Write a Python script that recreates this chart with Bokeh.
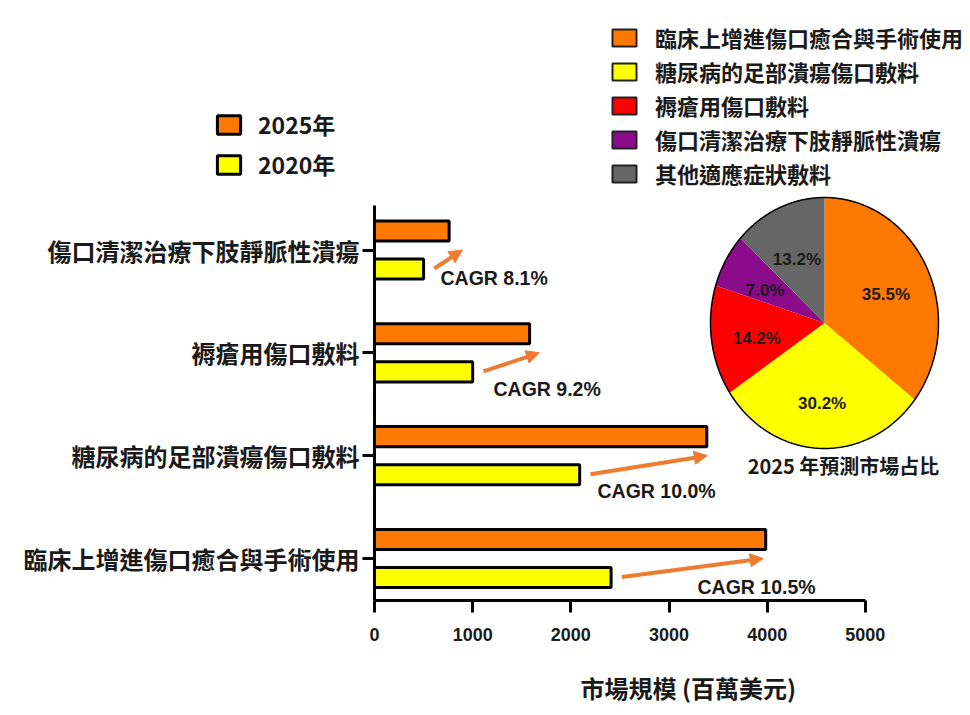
import numpy as np
from bokeh.plotting import figure
from bokeh.models import (Range1d, FixedTicker, Legend, LegendItem, Arrow, NormalHead,
                          ColumnDataSource)
from bokeh.core.properties import value
from bokeh.embed import file_html
from bokeh.resources import INLINE

# ---------------- data ----------------
categories = ["臨床上增進傷口癒合與手術使用", "糖尿病的足部潰瘍傷口敷料",
              "褥瘡用傷口敷料", "傷口清潔治療下肢靜脈性潰瘍"]
values_2020 = [2410, 2090, 1000, 500]
values_2025 = [3985, 3385, 1580, 760]
cagr_labels = ["CAGR 10.5%", "CAGR 10.0%", "CAGR 9.2%", "CAGR 8.1%"]
series_labels = ["2025年", "2020年"]
x_ticks = [0, 1000, 2000, 3000, 4000, 5000]
x_label = "市場規模 (百萬美元)"

pie_categories = ["臨床上增進傷口癒合與手術使用", "糖尿病的足部潰瘍傷口敷料",
                  "褥瘡用傷口敷料", "傷口清潔治療下肢靜脈性潰瘍", "其他適應症狀敷料"]
pie_shares = [35.5, 30.2, 14.2, 7.0, 13.2]
pie_title = "2025 年預測市場占比"

# ---------------- style / layout ----------------
ORANGE = "#FF7800"
YELLOW = "#FFFF00"
ARROW_C = "#EE7B30"
PIE_COLORS = [ORANGE, YELLOW, "#FF0000", "#8A0C8A", "#666666"]
TXT = "#1a1a1a"
CJK = "Noto Sans CJK TC"
LAT = "Liberation Sans"

W, H = 970, 715
AX_X = 374            # canvas px of value 0
AX_Y = 600            # canvas px of x-axis line
CAT0_Y = 558          # canvas px of first category
PX_PER_VAL = 0.09817  # px per million USD
PX_PER_CAT = 102.83   # px per category step

x_start = -AX_X / PX_PER_VAL
x_end = (W - AX_X) / PX_PER_VAL
y_start = -(H - CAT0_Y) / PX_PER_CAT
y_end = CAT0_Y / PX_PER_CAT
y_axis_bottom = -(AX_Y - CAT0_Y) / PX_PER_CAT
y_axis_top = (CAT0_Y - 205) / PX_PER_CAT
X_AXIS_MAX = 5000

BAR_OFF = 0.185
BAR_H = 0.195

p = figure(width=W, height=H, output_backend="svg", toolbar_location=None, title=None,
           x_range=Range1d(x_start, x_end), y_range=Range1d(y_start, y_end),
           min_border_left=0, min_border_right=0, min_border_top=0, min_border_bottom=0)
p.outline_line_color = None
p.xgrid.visible = False
p.ygrid.visible = False
p.background_fill_color = "white"
p.border_fill_color = "white"

# ---------------- bars ----------------
idx = list(range(len(categories)))
src = ColumnDataSource(dict(
    y25=[i + BAR_OFF for i in idx], y20=[i - BAR_OFF for i in idx],
    v25=values_2025, v20=values_2020))
r25 = p.hbar(y="y25", left=0, right="v25", height=BAR_H, source=src,
             fill_color=ORANGE, line_color="black", line_width=3)
r20 = p.hbar(y="y20", left=0, right="v20", height=BAR_H, source=src,
             fill_color=YELLOW, line_color="black", line_width=3)

# ---------------- axes ----------------
xa = p.xaxis[0]
xa.fixed_location = y_axis_bottom
xa.ticker = FixedTicker(ticks=x_ticks)
xa.bounds = (0, X_AXIS_MAX)
xa.axis_line_width = 3
xa.major_tick_line_width = 3
xa.major_tick_out = 12
xa.major_tick_in = 0
xa.minor_tick_out = 0
xa.minor_tick_in = 0
xa.major_label_text_font = LAT
xa.major_label_text_font_size = "18px"
xa.major_label_text_font_style = "bold"
xa.major_label_text_color = TXT
xa.major_label_standoff = 15

ya = p.yaxis[0]
ya.fixed_location = 0
ya.ticker = FixedTicker(ticks=idx)
ya.major_label_overrides = {i: c for i, c in zip(idx, categories)}
ya.bounds = (y_axis_bottom, y_axis_top)
ya.axis_line_width = 3
ya.major_tick_line_width = 3
ya.major_tick_out = 12
ya.major_tick_in = 0
ya.minor_tick_out = 0
ya.minor_tick_in = 0
ya.major_label_text_font = CJK
ya.major_label_text_font_size = "24px"
ya.major_label_text_font_style = "bold"
ya.major_label_text_color = TXT
ya.major_label_standoff = 3

# x-axis title (offset to the right, as in the source figure)
p.text(x=[(580 - AX_X) / PX_PER_VAL], y=[-(687 - CAT0_Y) / PX_PER_CAT], text=[x_label],
       text_font=value(CJK), text_font_size="24px", text_font_style="bold",
       text_color=TXT, text_align="left", text_baseline="middle")

# ---------------- CAGR arrows & labels ----------------
tail_dx = 110
tip_dx = [-25, 5, 100, 135]
label_dx = [770, 72, 102, 62]
label_dy = [-0.282, -0.346, -0.351, -0.277]
tails = [v + tail_dx for v in values_2020]
asrc = ColumnDataSource(dict(
    xs=tails, ys=[i - 0.18 for i in idx],
    xe=[v + d for v, d in zip(values_2025, tip_dx)], ye=[float(i) for i in idx]))
p.add_layout(Arrow(end=NormalHead(size=13, fill_color=ARROW_C, line_color=ARROW_C),
                   x_start="xs", y_start="ys", x_end="xe", y_end="ye", source=asrc,
                   line_color=ARROW_C, line_width=4))
p.text(x=[t + d for t, d in zip(tails, label_dx)], y=[i + d for i, d in zip(idx, label_dy)],
       text=cagr_labels, text_font=value(LAT), text_font_size="19.5px",
       text_font_style="bold", text_color=TXT, text_align="left", text_baseline="middle")

# ---------------- pie (elliptical, own ranges) ----------------
PIE_CX, PIE_CY, PIE_RX, PIE_RY = 824, 322.5, 114, 125.5   # canvas px
p.extra_x_ranges = {"pie": Range1d((0 - PIE_CX) / PIE_RX, (W - PIE_CX) / PIE_RX)}
p.extra_y_ranges = {"pie": Range1d((PIE_CY - H) / PIE_RY, (PIE_CY - 0) / PIE_RY)}

tot = sum(pie_shares)
cum = np.concatenate([[0], np.cumsum(pie_shares)]) / tot
pxs, pys, lx, ly = [], [], [], []
for a, b in zip(cum[:-1], cum[1:]):
    th = np.radians(90 - 360 * np.linspace(a, b, 80))
    pxs.append([0.0] + list(np.cos(th)))
    pys.append([0.0] + list(np.sin(th)))
    m = np.radians(90 - 360 * (a + b) / 2)
    lx.append(0.6 * np.cos(m))
    ly.append(0.6 * np.sin(m) - 0.04)
psrc = ColumnDataSource(dict(xs=pxs, ys=pys, color=PIE_COLORS))
p.patches(xs="xs", ys="ys", fill_color="color", line_color=None, source=psrc,
          x_range_name="pie", y_range_name="pie")
th = np.linspace(0, 2 * np.pi, 361)
p.line(np.cos(th), np.sin(th), line_color="black", line_width=1.5,
       x_range_name="pie", y_range_name="pie")
p.text(x=lx, y=ly, text=[f"{s:.1f}%" for s in pie_shares], text_font=value(LAT),
       text_font_size="17px", text_font_style="bold", text_color=TXT,
       text_align="center", text_baseline="middle", x_range_name="pie", y_range_name="pie")
p.text(x=[19 / PIE_RX], y=[-142.5 / PIE_RY], text=[pie_title], text_font=value(CJK),
       text_font_size="20px", text_font_style="bold", text_color=TXT,
       text_align="center", text_baseline="middle", x_range_name="pie", y_range_name="pie")

# ---------------- legends ----------------
leg1 = Legend(items=[LegendItem(label=series_labels[0], renderers=[r25]),
                     LegendItem(label=series_labels[1], renderers=[r20])],
              location=(214, 534), glyph_width=29, glyph_height=23, label_height=23,
              label_standoff=15, spacing=6, padding=0, margin=0,
              border_line_color=None, background_fill_alpha=0,
              label_text_font=CJK, label_text_font_size="23px",
              label_text_font_style="bold", label_text_color=TXT)
p.add_layout(leg1)

# legend keys for the pie slices (not drawn in the plot: NaN position)
dummies = []
for c in PIE_COLORS:
    dummies.append(p.rect(x=np.array([np.nan]), y=np.array([np.nan]), width=1, height=1,
                          fill_color=c, line_color="#222222", line_width=2))
leg2 = Legend(items=[LegendItem(label=n, renderers=[r]) for n, r in zip(pie_categories, dummies)],
              location=(609, 526), glyph_width=30, glyph_height=21, label_height=21,
              label_standoff=16, spacing=2, padding=0, margin=0,
              border_line_color=None, background_fill_alpha=0,
              label_text_font=CJK, label_text_font_size="22px",
              label_text_font_style="bold", label_text_color=TXT)
p.add_layout(leg2)

open("out.html", "w").write(file_html(p, INLINE))
